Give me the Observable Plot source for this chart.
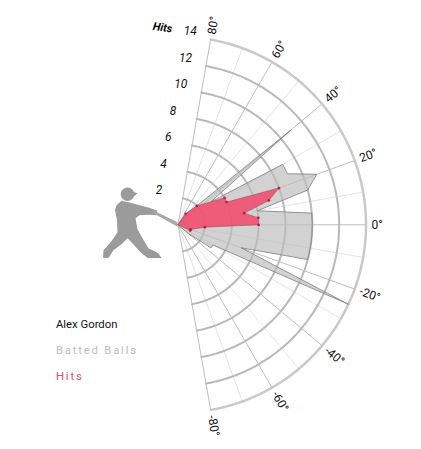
<!DOCTYPE html>
<html><head><meta charset="utf-8">
<script src="https://cdn.jsdelivr.net/npm/d3@7"></script>
<script src="https://cdn.jsdelivr.net/npm/@observablehq/plot@0.6"></script>
<style>
body{margin:0;background:#fff;font-family:Roboto,sans-serif;}
#chart{position:relative;width:421px;height:449px;}
.leg{position:absolute;left:56px;font-family:Roboto,sans-serif;font-size:11.3px;line-height:14px;white-space:nowrap;}
</style></head><body><div id="chart"></div>
<script>
// ---- data (launch angle in degrees, counts) ----
const battedAngles = [55, 45, 40, 35, 30, 25, 20, 15, 10, 5, 0, -5, -10, -15, -20, -25, -30, -35, -40];
const battedCounts = [1, 2, 11, 3, 9, 9, 11, 10, 6, 10, 10, 10, 10, 10, 5, 14, 3, 3, 1];
const hitAngles = [55, 45, 30, 25, 20, 15, 10, 5, 0, -5, -20, -25];
const hitCounts = [1, 2, 4, 4, 8, 7, 5, 6, 6, 2, 1, 1];
const angleTicks = [-80, -60, -40, -20, 0, 20, 40, 60, 80];
const minorAngles = [-70, -50, -30, -10, 10, 30, 50, 70];
const ringValues = [2, 4, 6, 8, 10, 12, 14];
const legendLabels = ["Alex Gordon", "Batted Balls", "Hits"];

// ---- layout ----
const W = 421, H = 449;
const CX = 177.5, CY = 224.3, K = 13.43; // center px, px per count
const maxR = 14;

const rad = a => a * Math.PI / 180;
const polar = (a, r) => ({x: r * Math.cos(rad(a)), y: r * Math.sin(rad(a)), a, r});

const battedPts = [polar(0, 0), ...battedAngles.map((a, i) => polar(a, battedCounts[i])), polar(0, 0)];
const hitPts = hitAngles.map((a, i) => polar(a, hitCounts[i]));
const hitPoly = [polar(0, 0), ...hitPts, polar(0, 0)];

const arcSteps = d3.range(-80, 80.01, 1);
const ringPts = ringValues.filter(v => v < maxR).flatMap(v => arcSteps.map(a => ({...polar(a, v), v})));
const outerPts = arcSteps.map(a => polar(a, maxR));

const labelR = maxR + 5.5 / K;

const plot = Plot.plot({
  width: W, height: H, margin: 0,
  x: {domain: [-CX / K, (W - CX) / K], axis: null},
  y: {domain: [-(H - CY) / K, CY / K], axis: null},
  marks: [
    Plot.link(minorAngles, {x1: 0, y1: 0, x2: a => maxR * Math.cos(rad(a)), y2: a => maxR * Math.sin(rad(a)), stroke: "#e4e4e4", strokeWidth: 1}),
    Plot.link(angleTicks, {x1: 0, y1: 0, x2: a => maxR * Math.cos(rad(a)), y2: a => maxR * Math.sin(rad(a)), stroke: "#bdbdbd", strokeWidth: 1}),
    Plot.line(ringPts, {x: "x", y: "y", z: "v", stroke: "#b9b9b9", strokeWidth: 2}),
    Plot.line(outerPts, {x: "x", y: "y", stroke: "#c9c9c9", strokeWidth: 2.5}),
    Plot.line(battedPts, {x: "x", y: "y", fill: "#bdbdbd", fillOpacity: 0.68, stroke: "#7d7d7d", strokeWidth: 0.8}),
    Plot.line(hitPoly, {x: "x", y: "y", fill: "#f4486a", fillOpacity: 0.85, stroke: "#8a5a60", strokeWidth: 0.6}),
    Plot.dot(hitPts, {x: "x", y: "y", r: 1.4, fill: "#d4123c"}),
    Plot.text(angleTicks, {
      x: a => labelR * Math.cos(rad(a)), y: a => labelR * Math.sin(rad(a)),
      text: a => a + "°", rotate: a => -a, textAnchor: "start", lineAnchor: "middle",
      fontSize: 12, fill: "#111", fontFamily: "Roboto"
    }),
    Plot.text(ringValues, {
      x: v => v * Math.cos(rad(80)), y: v => v * Math.sin(rad(80)),
      text: v => String(v), textAnchor: "start", lineAnchor: "middle", dx: -27, dy: -8,
      fontSize: 12, fontStyle: "italic", fill: "#111", fontFamily: "Roboto"
    }),
    Plot.text(["Hits"], {
      x: () => maxR * Math.cos(rad(80)), y: () => maxR * Math.sin(rad(80)),
      text: d => d, textAnchor: "middle", lineAnchor: "middle", dx: -48, dy: -12, rotate: 8,
      fontSize: 11, fontWeight: "bold", fontStyle: "italic", fill: "#000", fontFamily: "Roboto"
    })
  ]
});

// batter silhouette, positioned relative to the polar origin
const ox = plot.scale("x").apply(0), oy = plot.scale("y").apply(0);
const ns = "http://www.w3.org/2000/svg";
const mk = (tag, attrs) => { const e = document.createElementNS(ns, tag); for (const k in attrs) e.setAttribute(k, attrs[k]); return e; };
const g = mk("g", {transform: `translate(${ox},${oy})`, fill: "#9b9b9b"});
const body = [[-61,-19],[-56,-23.5],[-49,-22],[-27.5,-16.3],[-20.5,-13.8],[-21,-9],[-28,-9.5],[-38,-9],[-42,-6],[-40,5],[-35,14],[-29,24],[-19.5,28.7],[-16,33.7],[-30,33.7],[-38,27],[-45,19],[-50,14],[-56,20],[-64,26],[-69,33.7],[-74.5,33.5],[-74,26],[-66,17],[-60,8],[-60.5,-4.3],[-62.5,-14.3]];
const bat = [[-24,-13.8],[0,-2],[0,2.5],[-24,-11]];
g.appendChild(mk("path", {d: "M" + body.map(p => p.join(",")).join("L") + "Z"}));
g.appendChild(mk("path", {d: "M" + bat.map(p => p.join(",")).join("L") + "Z", fill: "#a8a8a8"}));
g.appendChild(mk("circle", {cx: -50, cy: -30, r: 6.8}));
g.appendChild(mk("path", {d: "M-46,-33 L-40,-31 L-43,-28 Z"}));
plot.insertBefore(g, plot.firstChild.nextSibling);

const chart = document.getElementById("chart");
chart.appendChild(plot);
const colors = ["#111", "#bdbdbd", "#f0486a"];
const spacing = ["0px", "1.8px", "1.8px"];
const tops = [318, 344, 370];
legendLabels.forEach((t, i) => {
  const d = document.createElement("div");
  d.className = "leg";
  d.textContent = t;
  d.style.top = tops[i] + "px";
  d.style.color = colors[i];
  d.style.letterSpacing = spacing[i];
  chart.appendChild(d);
});
</script>
</body></html>
